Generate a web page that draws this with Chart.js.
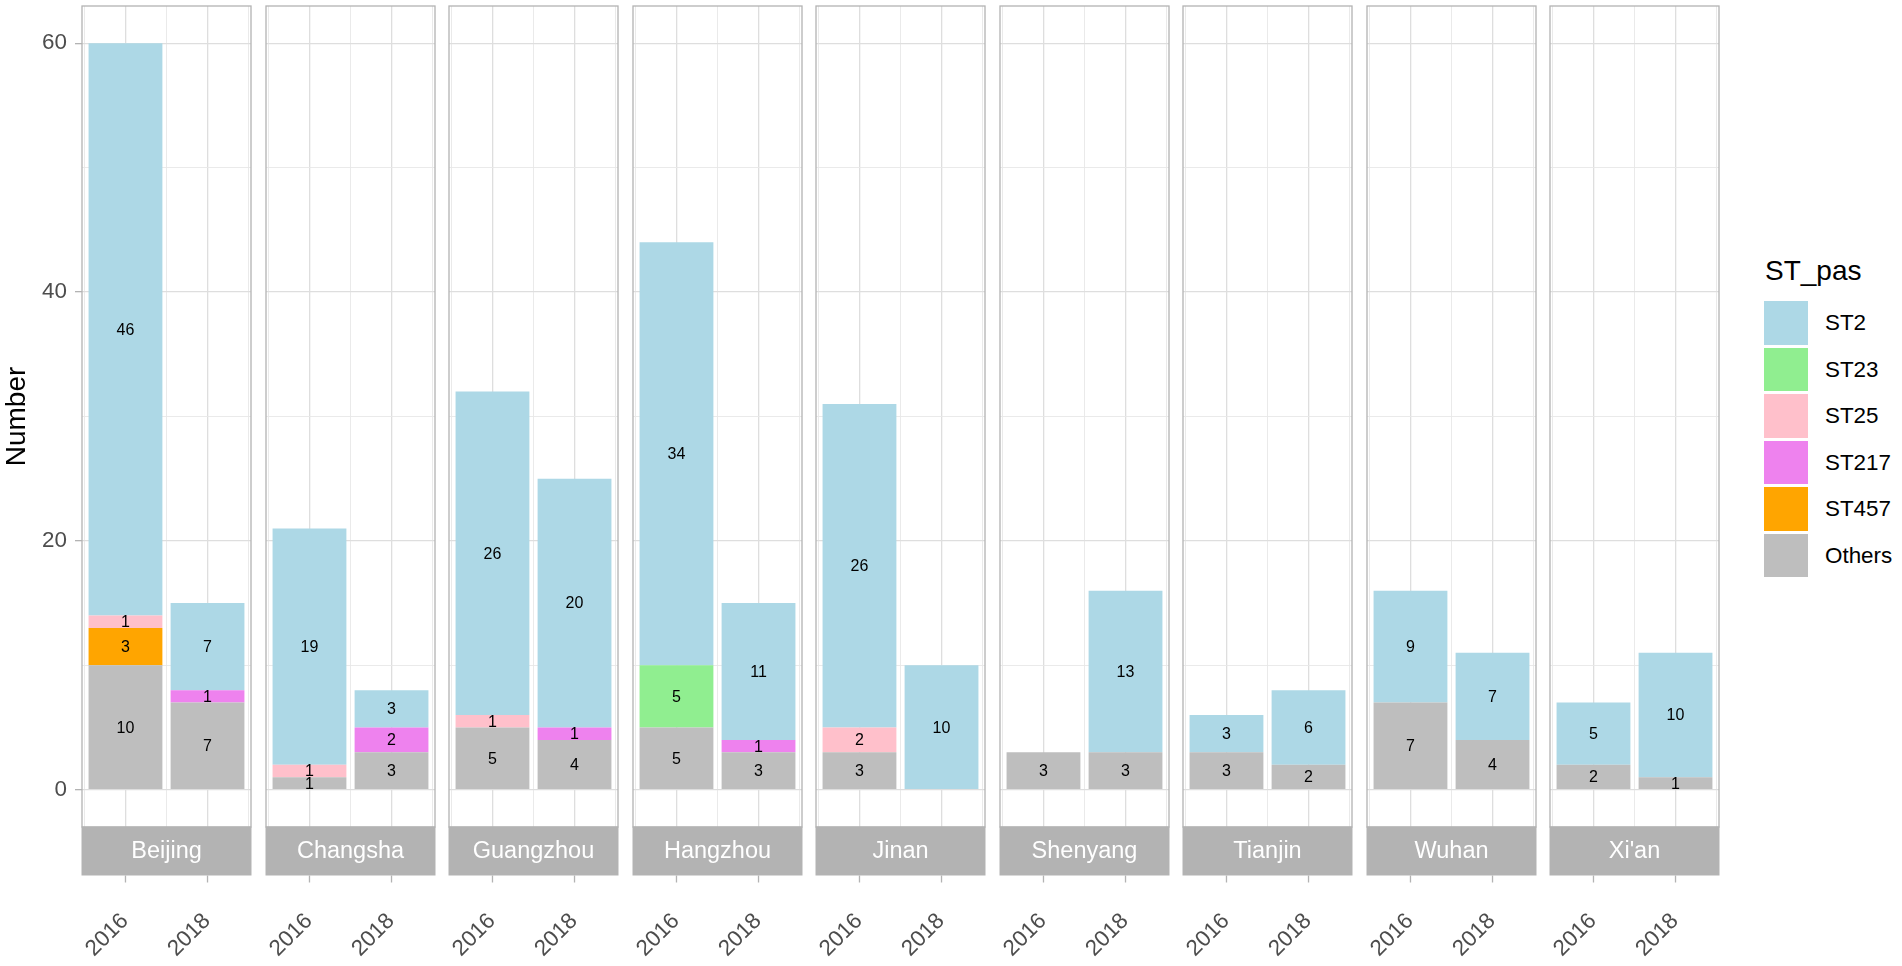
<!DOCTYPE html>
<html>
<head>
<meta charset="utf-8">
<title>ST_pas by city</title>
<script src="https://cdn.jsdelivr.net/npm/chart.js@4.4.0/dist/chart.umd.min.js"></script>
<style>
  html, body { margin: 0; padding: 0; background: #fff; }
  body {
    position: relative;
    width: 1902px;
    height: 966px;
    overflow: hidden;
    font-family: "Liberation Sans", Arial, sans-serif;
  }
  .facet { position: absolute; top: 0; height: 966px; }
  .legend-title { position: absolute; left: 1765px; top: 257px; font-size: 28px; line-height: 28px; color: #000; }
  .legend-key { position: absolute; left: 1764px; width: 44px; height: 43.5px; }
  .legend-label { position: absolute; left: 1825px; font-size: 22.4px; line-height: 43.5px; color: #000; }
</style>
</head>
<body>
<div id="plots"></div>
<div id="legend"></div>
<script>
// Data
const cities = ["Beijing", "Changsha", "Guangzhou", "Hangzhou", "Jinan", "Shenyang", "Tianjin", "Wuhan", "Xi'an"];
const years = [2016, 2018];
const yearGrid = [2015, 2016, 2017, 2018, 2019];
const yMajor = [0, 20, 40, 60];
const yMinor = [10, 30, 50];
const stNames = ["ST2", "ST23", "ST25", "ST217", "ST457", "Others"];
const stColors = ["#ADD8E6", "#90EE90", "#FFC0CB", "#EE82EE", "#FFA500", "#BEBEBE"];

// counts per city as [2016, 2018]; null = type not found
const st2 = [46, 7, 19, 3, 26, 20, 34, 11, 26, 10, null, 13, 3, 6, 9, 7, 5, 10];
const st23 = [null, null, null, null, null, null, 5, null, null, null, null, null, null, null, null, null, null, null];
const st25 = [1, null, 1, null, 1, null, null, null, 2, null, null, null, null, null, null, null, null, null];
const st217 = [null, 1, null, 2, null, 1, null, 1, null, null, null, null, null, null, null, null, null, null];
const st457 = [3, null, null, null, null, null, null, null, null, null, null, null, null, null, null, null, null, null];
const others = [10, 7, 1, 3, 5, 4, 5, 3, 3, null, 3, 3, 3, 2, 7, 4, 2, 1];

const seriesValues = [st2, st23, st25, st217, st457, others];
// bottom of the stack first
const stackOrder = [5, 4, 3, 2, 1, 0];

// layout (px)
const PANEL_LEFT = 82;
const PANEL_STEP = 183.5;
const PANEL_W = 169;
const YAXIS_W = 82;
const PAD = 3;
const AREA_TOP = 6;
const AREA_BOTTOM = 827;
const H = 966;
const STRIP_H = 49;
const X_MIN = 2014.94;
const X_MAX = 2019.06;

const FONT = "'Liberation Sans', Arial, sans-serif";
Chart.defaults.font.family = FONT;

function tickValue(c) {
  return c.tick ? c.tick.value : null;
}

// panel border, facet strip below panel, x tick marks under the strip
const facetStrip = {
  id: "facetStrip",
  afterDraw: function (chart, args, opts) {
    const a = chart.chartArea;
    const ctx = chart.ctx;
    ctx.save();
    ctx.strokeStyle = "#b3b3b3";
    ctx.lineWidth = 1.3;
    ctx.strokeRect(a.left, a.top, a.right - a.left, a.bottom - a.top);

    ctx.fillStyle = "#b3b3b3";
    ctx.fillRect(a.left - 0.5, a.bottom - 0.5, a.right - a.left + 1, STRIP_H);
    ctx.fillStyle = "#ffffff";
    ctx.font = "23.5px " + FONT;
    ctx.textAlign = "center";
    ctx.textBaseline = "middle";
    ctx.fillText(opts.title, (a.left + a.right) / 2, a.bottom + STRIP_H / 2);

    const xs = chart.scales.x;
    ctx.strokeStyle = "#b3b3b3";
    ctx.lineWidth = 1.3;
    xs.ticks.forEach(function (t) {
      const px = xs.getPixelForValue(t.value);
      ctx.beginPath();
      ctx.moveTo(px, a.bottom + STRIP_H - 0.5);
      ctx.lineTo(px, a.bottom + STRIP_H + 6.5);
      ctx.stroke();
    });
    ctx.restore();
  },
};

// count written in the middle of each stacked segment
const segmentLabels = {
  id: "segmentLabels",
  afterDatasetsDraw: function (chart) {
    const ctx = chart.ctx;
    ctx.save();
    ctx.font = "16px " + FONT;
    ctx.fillStyle = "#000";
    ctx.textAlign = "center";
    ctx.textBaseline = "middle";
    chart.data.datasets.forEach(function (ds, di) {
      chart.getDatasetMeta(di).data.forEach(function (bar, i) {
        const v = ds.data[i].y;
        if (v === null || v === undefined) return;
        const p = bar.getProps(["x", "y", "base"], true);
        ctx.fillText(String(v), p.x, (p.y + p.base) / 2 + 1);
      });
    });
    ctx.restore();
  },
};

const plots = document.getElementById("plots");

cities.forEach(function (city, ci) {
  const first = ci === 0;
  const box = document.createElement("div");
  box.className = "facet";
  const left = first ? 0 : PANEL_LEFT + ci * PANEL_STEP - PAD;
  const width = first ? YAXIS_W + PANEL_W + PAD : PANEL_W + 2 * PAD;
  box.style.left = left + "px";
  box.style.width = width + "px";
  const canvas = document.createElement("canvas");
  box.appendChild(canvas);
  plots.appendChild(box);

  const datasets = stackOrder.map(function (k) {
    return {
      label: stNames[k],
      data: years.map(function (yr, yi) {
        return { x: yr, y: seriesValues[k][ci * 2 + yi] };
      }),
      backgroundColor: stColors[k],
      borderWidth: 0,
      barPercentage: 0.9,
      categoryPercentage: 1,
      xAxisID: "x",
      yAxisID: "y",
    };
  });

  new Chart(canvas, {
    type: "bar",
    data: { datasets: datasets },
    plugins: [facetStrip, segmentLabels],
    options: {
      responsive: true,
      maintainAspectRatio: false,
      animation: false,
      layout: { padding: { left: first ? 0 : PAD, right: PAD, top: AREA_TOP, bottom: 0 } },
      plugins: {
        legend: { display: false },
        tooltip: { enabled: false },
        facetStrip: { title: city },
      },
      scales: {
        x: {
          type: "linear",
          stacked: true,
          offset: false,
          min: X_MIN,
          max: X_MAX,
          afterBuildTicks: function (s) {
            s.ticks = years.map(function (v) { return { value: v }; });
          },
          afterFit: function (s) {
            s.height = H - AREA_BOTTOM;
            s.paddingLeft = 0;
            s.paddingRight = 0;
          },
          grid: { display: false, drawTicks: false, offset: false },
          border: { display: false },
          ticks: {
            autoSkip: false,
            minRotation: 45,
            maxRotation: 45,
            padding: 81,
            labelOffset: -0.5,
            color: "#4d4d4d",
            font: { size: 22.4 },
            callback: function (v) { return String(v); },
          },
        },
        xGrid: {
          type: "linear",
          axis: "x",
          position: "top",
          offset: false,
          min: X_MIN,
          max: X_MAX,
          afterBuildTicks: function (s) {
            s.ticks = yearGrid.map(function (v) { return { value: v }; });
          },
          afterFit: function (s) {
            s.height = 0;
            s.paddingLeft = 0;
            s.paddingRight = 0;
          },
          grid: {
            drawTicks: false,
            offset: false,
            color: function (c) { return years.includes(tickValue(c)) ? "#dedede" : "#e8e8e8"; },
            lineWidth: function (c) { return years.includes(tickValue(c)) ? 1.3 : 0.9; },
          },
          border: { display: false, color: "#dedede" },
          ticks: { display: false },
        },
        y: {
          type: "linear",
          stacked: true,
          min: -3,
          max: 63,
          afterBuildTicks: function (s) {
            s.ticks = yMajor.concat(yMinor).sort(function (a, b) { return a - b; })
              .map(function (v) { return { value: v }; });
          },
          afterFit: function (s) {
            s.width = first ? YAXIS_W : 0;
            s.paddingTop = 0;
            s.paddingBottom = 0;
          },
          grid: {
            drawTicks: first,
            tickLength: 7,
            color: function (c) { return yMajor.includes(tickValue(c)) ? "#dedede" : "#e8e8e8"; },
            lineWidth: function (c) { return yMajor.includes(tickValue(c)) ? 1.3 : 0.9; },
            tickColor: function (c) { return yMajor.includes(tickValue(c)) ? "#b3b3b3" : "rgba(0,0,0,0)"; },
          },
          border: { display: false, color: "#dedede" },
          ticks: {
            display: first,
            padding: 8,
            color: "#4d4d4d",
            font: { size: 22.4 },
            callback: function (v) { return yMajor.includes(v) ? String(v) : ""; },
          },
          title: {
            display: first,
            text: "Number",
            color: "#000",
            font: { size: 28 },
            padding: 0,
          },
        },
      },
    },
  });
});

// legend: ST2 on top, Others at the bottom
const legend = document.getElementById("legend");
const lt = document.createElement("div");
lt.className = "legend-title";
lt.textContent = "ST_pas";
legend.appendChild(lt);
stNames.forEach(function (name, k) {
  const top = 301 + k * 46.5;
  const key = document.createElement("div");
  key.className = "legend-key";
  key.style.top = top + "px";
  key.style.background = stColors[k];
  legend.appendChild(key);
  const lab = document.createElement("div");
  lab.className = "legend-label";
  lab.style.top = top + "px";
  lab.textContent = name;
  legend.appendChild(lab);
});
</script>
</body>
</html>
